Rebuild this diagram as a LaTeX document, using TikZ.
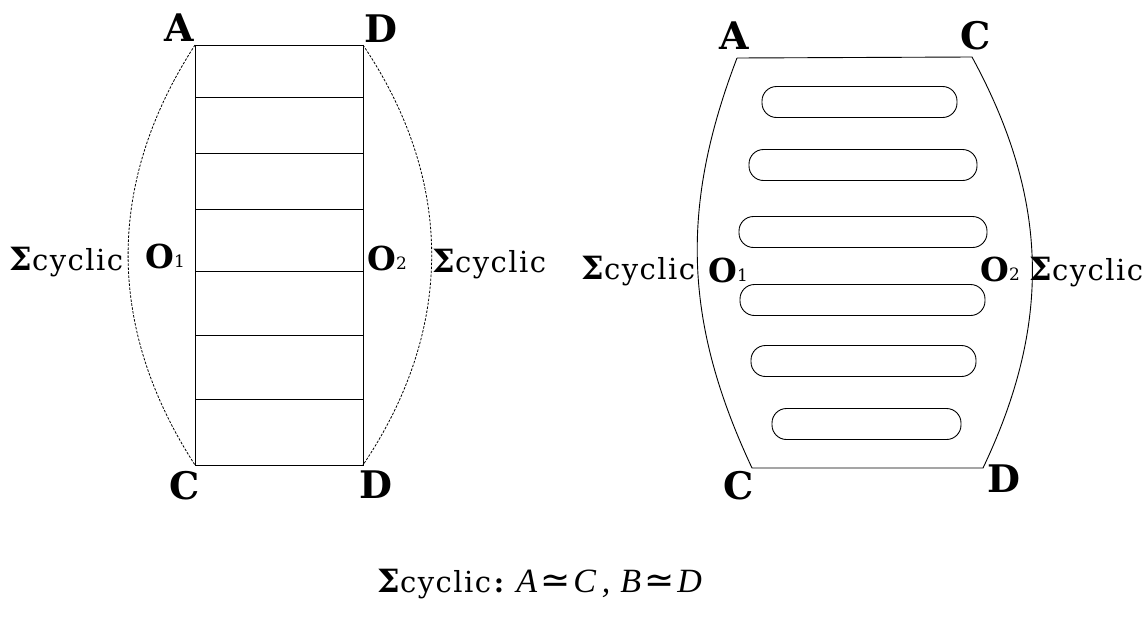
\documentclass[tikz,border=0pt]{standalone}
\usepackage{amsmath,amssymb}
\usepackage{fontspec}
\setmainfont{DejaVu Serif}
\newfontfamily\tmsfont{Liberation Serif}
\newfontfamily\symfont{DejaVu Sans}
\usepackage{tikz}
\usetikzlibrary{positioning,calc}

\newcommand{\Scyc}{{\fontsize{32}{33}\selectfont\bfseries Σ}{\fontsize{29}{30}\selectfont\addfontfeature{LetterSpace=5}cyclic}}
\newcommand{\Olab}[1]{{\fontsize{33}{34}\selectfont\bfseries O}\raisebox{1pt}{\fontsize{17}{18}\selectfont #1}}
\newcommand{\eqv}{\hspace{3pt}{\symfont\upshape\fontsize{36}{38}\selectfont ≃}\hspace{3pt}}

\begin{document}
\begin{tikzpicture}[x=1pt, y=-1pt, line width=0.9pt,
    corner/.style={inner sep=0pt, font=\fontsize{38}{40}\selectfont\bfseries},
    lab/.style={inner sep=0pt, anchor=base west},
    cyc/.style={dash pattern=on 2.5pt off 1.5pt, line width=0.8pt},
    slot/.style={draw, rounded corners=14.5pt, minimum height=31pt, inner sep=0pt}]
    \useasboundingbox (0,0) rectangle (1145,621);

    % left picture: strip cut into cells
    \coordinate (lA) at (195,45);
    \coordinate (lD) at (363,45);
    \coordinate (lC) at (195,465);
    \coordinate (lB) at (363,465);
    \draw (lA) rectangle (lB);
    \foreach \y in {97,153,209,271,335,399} {
      \draw (195,\y) -- (363,\y);
    }
    \draw[cyc] (lA) to[bend right=33] (lC);
    \draw[cyc] (lD) to[bend left=34] (lB);

    \node[corner] (lAl) at (179,28) {A};
    \node[corner] (lDl) at (381,29) {D};
    \node[corner] (lCl) at (185,486) {C};
    \node[corner] (lBl) at (376,485) {D};

    \node[lab] (lS1) at (9,270) {\Scyc};
    \node[lab] (lO1) at (145,268) {\Olab{1}};
    \node[lab] (lO2) at (367,270) {\Olab{2}};
    \node[lab] (lS2) at (432,272) {\Scyc};

    % right picture: barrel with slots
    \coordinate (rA) at (737,58);
    \coordinate (rC) at (972,57);
    \coordinate (rCb) at (752,468);
    \coordinate (rD) at (983,468);
    \draw (rA) -- (rC) to[bend left=27] (rD) -- (rCb) to[bend left=23] (rA);
    \foreach \n/\xa/\xb/\yc in {1/762/957/102,2/749/977/165,3/739/987/232,
                                4/740/985/300,5/751/976/361,6/772/961/424} {
      \node[slot, minimum width=\xb-\xa] (s\n) at ({(\xa+\xb)/2},\yc) {};
    }

    \node[corner] (rAl) at (734,36) {A};
    \node[corner] (rCl) at (976,36) {C};
    \node[corner] (rCbl) at (739,486) {C};
    \node[corner] (rDl) at (1004,479) {D};

    \node[lab] (rS1) at (581,279) {\Scyc};
    \node[lab] (rO1) at (708,282) {\Olab{1}};
    \node[lab] (rO2) at (980,281) {\Olab{2}};
    \node[lab] (rS2) at (1029,280) {\Scyc};

    % identification rule
    \node[lab] (rule) at (377,592) {\Scyc\hspace{3pt}{\fontsize{28}{30}\selectfont\bfseries :}\hspace{12pt}%
      {\fontsize{34}{36}\selectfont\tmsfont\itshape A\eqv C\hspace{6pt},\hspace{10pt}B\eqv D}};
  \end{tikzpicture}
\end{document}
